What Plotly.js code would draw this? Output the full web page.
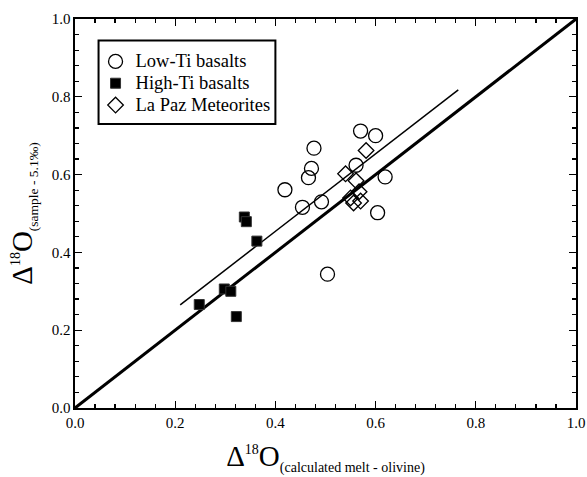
<!DOCTYPE html>
<html>
<head>
<meta charset="utf-8">
<script src="https://cdn.plot.ly/plotly-3.0.1.min.js"></script>
<style>html,body{margin:0;padding:0;background:#fff;}#chart{width:587px;height:477px;}</style>
</head>
<body>
<div id="chart"></div>
<script>
// Low-Ti basalts (open circles)
var lowTiX = [0.419, 0.454, 0.466, 0.472, 0.477, 0.492, 0.504, 0.561, 0.570, 0.600, 0.619, 0.604];
var lowTiY = [0.561, 0.516, 0.592, 0.616, 0.668, 0.530, 0.344, 0.624, 0.712, 0.700, 0.594, 0.502];
// High-Ti basalts (filled squares)
var highTiX = [0.248, 0.298, 0.311, 0.322, 0.338, 0.342, 0.363];
var highTiY = [0.266, 0.306, 0.300, 0.235, 0.491, 0.479, 0.429];
// La Paz meteorites (open diamonds)
var laPazX = [0.581, 0.540, 0.561, 0.567, 0.550, 0.556, 0.570];
var laPazY = [0.662, 0.602, 0.584, 0.556, 0.540, 0.527, 0.532];
// 1:1 line and fitted line
var oneX = [0, 1];
var oneY = [0, 1];
var fitX = [0.21, 0.765];
var fitY = [0.265, 0.818];
// Tick values
var tickVals = [0, 0.2, 0.4, 0.6, 0.8, 1.0];
var tickText = ['0.0', '0.2', '0.4', '0.6', '0.8', '1.0'];
// Legend names
var seriesNames = ['Low-Ti basalts', 'High-Ti basalts', 'La Paz Meteorites'];

var serif = 'Liberation Serif';

function legendName(s) {
  return '<span style="font-size:18.5px">' + s + '</span>';
}

var traces = [
  {x: oneX, y: oneY, mode: 'lines', line: {color: '#000', width: 3}, showlegend: false, hoverinfo: 'skip'},
  {x: fitX, y: fitY, mode: 'lines', line: {color: '#000', width: 1.5}, showlegend: false, hoverinfo: 'skip'},
  {x: lowTiX, y: lowTiY, mode: 'markers', name: legendName(seriesNames[0]),
   marker: {symbol: 'circle-open', size: 14, color: '#000', line: {width: 1.3, color: '#000'}}},
  {x: highTiX, y: highTiY, mode: 'markers', name: legendName(seriesNames[1]),
   marker: {symbol: 'square', size: 10, color: '#000', line: {width: 1, color: '#333'}}},
  {x: laPazX, y: laPazY, mode: 'markers', name: legendName(seriesNames[2]),
   marker: {symbol: 'diamond-open', size: 12, color: '#000', line: {width: 1.3, color: '#000'}}}
];

function axis(titleText) {
  return {
    range: [0, 1],
    tickvals: tickVals,
    ticktext: tickText,
    ticks: 'inside',
    ticklen: 7,
    tickwidth: 1.3,
    tickcolor: '#000',
    minor: {dtick: 0.04, ticks: 'inside', ticklen: 4, tickwidth: 1.2, tickcolor: '#000', showgrid: false},
    showline: true,
    linecolor: '#000',
    linewidth: 1.6,
    mirror: 'ticks',
    showgrid: false,
    zeroline: false,
    tickfont: {family: serif, size: 15, color: '#000'},
    title: {text: titleText, font: {family: serif, size: 29, color: '#000'}}
  };
}

var xa = axis('Δ<sup><span style="font-size:14px">18</span></sup>O<sub><span style="font-size:14px">(calculated melt - olivine)</span></sub>');
xa.title.standoff = 16;
var ya = axis('Δ<sup><span style="font-size:14px">18</span></sup>O<sub><span style="font-size:13.5px">(sample - 5.1‰)</span></sub>');
ya.title.standoff = 10;

var layout = {
  width: 587,
  height: 477,
  margin: {l: 75, r: 11, t: 19, b: 69},
  font: {family: serif, color: '#000'},
  paper_bgcolor: '#fff',
  plot_bgcolor: '#fff',
  xaxis: xa,
  yaxis: ya,
  showlegend: true,
  legend: {
    x: 0.041, y: 0.932, xanchor: 'left', yanchor: 'top',
    bgcolor: 'rgba(0,0,0,0)', borderwidth: 0,
    font: {family: serif, size: 14.5, color: '#000'},
    itemwidth: 30
  },
  shapes: [
    {type: 'rect', xref: 'paper', yref: 'paper', x0: 0.047, x1: 0.40, y0: 0.73, y1: 0.945,
     line: {color: '#000', width: 2}, fillcolor: 'rgba(0,0,0,0)'}
  ]
};

Plotly.newPlot('chart', traces, layout, {displayModeBar: false, staticPlot: true});
</script>
</body>
</html>
